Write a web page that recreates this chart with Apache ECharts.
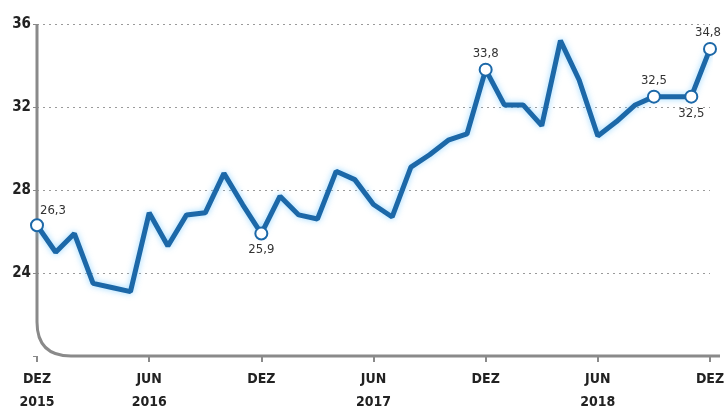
<!DOCTYPE html>
<html>
<head>
<meta charset="utf-8">
<script src="https://cdn.jsdelivr.net/npm/echarts@6/dist/echarts.min.js"></script>
<style>
html,body{margin:0;padding:0;background:#fff;}
#c{width:728px;height:410px;}
</style>
</head>
<body>
<div id="c"></div>
<script>
const months = ['DEZ 2015','JAN 2016','FEV 2016','MAR 2016','ABR 2016','MAI 2016','JUN 2016','JUL 2016','AGO 2016','SET 2016','OUT 2016','NOV 2016',
  'DEZ 2016','JAN 2017','FEV 2017','MAR 2017','ABR 2017','MAI 2017','JUN 2017','JUL 2017','AGO 2017','SET 2017','OUT 2017','NOV 2017',
  'DEZ 2017','JAN 2018','FEV 2018','MAR 2018','ABR 2018','MAI 2018','JUN 2018','JUL 2018','AGO 2018','SET 2018','OUT 2018','NOV 2018','DEZ 2018'];
const values = [26.3,25.0,25.9,23.5,23.3,23.1,26.9,25.3,26.8,26.9,28.8,27.3,
  25.9,27.7,26.8,26.6,28.9,28.5,27.3,26.7,29.1,29.7,30.4,30.7,
  33.8,32.1,32.1,31.1,35.2,33.3,30.6,31.3,32.1,32.5,32.5,32.5,34.8];
const tickLabels = {0:'DEZ\n2015',6:'JUN\n2016',12:'DEZ',18:'JUN\n2017',24:'DEZ',30:'JUN\n2018',36:'DEZ'};
const yTicks = [24,28,32,36];
const annotated = [0,12,24,33,35,36];

const belowIdx = [12,35];
const font = "'Liberation Sans Narrow','DejaVu Sans Condensed',sans-serif";
const fmt = v => String(v.toFixed(1)).replace('.', ',');

const data = values.map((v,i) => {
  if (annotated.indexOf(i) < 0) return {value: v, symbol: 'none'};
  let pos = belowIdx.indexOf(i) >= 0 ? 'bottom' : 'top';
  let off = [0,0];
  if (i === 0) { pos = 'top'; off = [16, 2]; }
  if (i === 36) { off = [-2, 0]; }
  return {
    value: v, symbol: 'circle', symbolSize: 12,
    label: {show: true, position: pos, offset: off, formatter: fmt(v), color: '#333', fontSize: 13, fontFamily: font, distance: 3}
  };
});

const chart = echarts.init(document.getElementById('c'));
chart.setOption({
  animation: false,
  grid: {left: 37, right: 18, top: 24, bottom: 54, outerBoundsMode: 'none', containLabel: false},
  xAxis: {
    type: 'category', data: months, boundaryGap: false,
    axisLine: {show: false},
    axisTick: {show: true, alignWithLabel: true, interval: (i) => tickLabels[i] !== undefined, length: 6, lineStyle: {color: '#8a8a8a', width: 2}},
    axisLabel: {interval: (i) => tickLabels[i] !== undefined, formatter: (v, i) => tickLabels[i] || '',
      fontFamily: font, fontWeight: 'bold', fontSize: 14, color: '#222', lineHeight: 23, margin: 12},
    splitLine: {show: false}
  },
  yAxis: {
    type: 'value', min: 20, max: 36, interval: 4,
    axisLine: {show: false},
    axisTick: {show: true, length: 4, lineStyle: {color: '#888'}},
    axisLabel: {formatter: v => yTicks.indexOf(v) >= 0 ? String(v) : '', fontFamily: font, fontWeight: 'bold', fontSize: 15, color: '#222', margin: 6},
    splitLine: {show: true, showMinLine: false, lineStyle: {type: [2, 4], color: '#9a9a9a', width: 1}}
  },
  series: [{
    type: 'line', data: data,
    lineStyle: {color: '#1c68a8', width: 5, shadowColor: 'rgba(110,200,255,0.7)', shadowBlur: 6},
    itemStyle: {color: '#fff', borderColor: '#1c68a8', borderWidth: 2},
    z: 5
  }]
});

const p0 = chart.convertToPixel({xAxisIndex: 0, yAxisIndex: 0}, [0, 36]);
const pb = chart.convertToPixel({xAxisIndex: 0, yAxisIndex: 0}, [0, 20]);
const pe = chart.convertToPixel({xAxisIndex: 0, yAxisIndex: 0}, [months.length - 1, 20]);
const r = 34;
const x0 = p0[0], yt = p0[1], yb = pb[1], xe = pe[0] + 10;
const axStyle = {stroke: '#8a8a8a', lineWidth: 3, fill: null};
chart.setOption({
  graphic: [
    {type: 'line', z: 3, shape: {x1: x0, y1: yt, x2: x0, y2: yb - r}, style: axStyle},
    {type: 'bezierCurve', z: 3, shape: {x1: x0, y1: yb - r, cpx1: x0, cpy1: yb, x2: x0 + r, y2: yb}, style: axStyle},
    {type: 'line', z: 3, shape: {x1: x0 + r, y1: yb, x2: xe, y2: yb}, style: axStyle}
  ]
});
</script>
</body>
</html>
